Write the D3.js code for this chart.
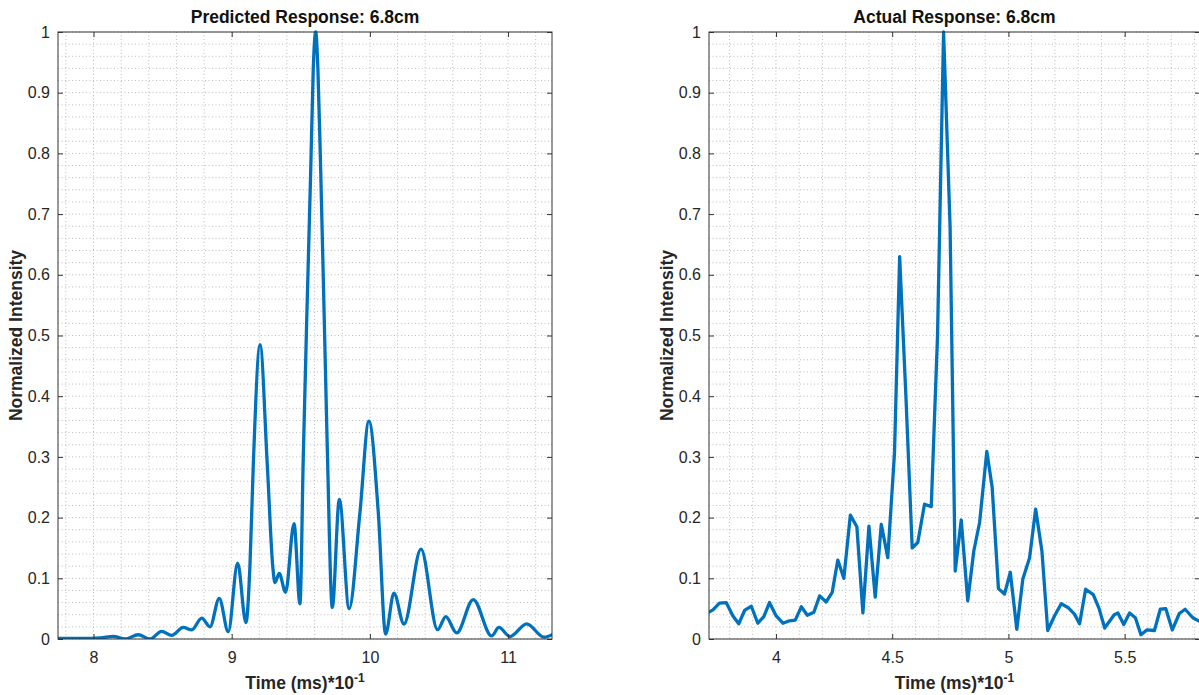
<!DOCTYPE html>
<html>
<head>
<meta charset="utf-8">
<script src="https://d3js.org/d3.v7.min.js"></script>
<style>
  body { margin: 0; background: #fff; }
  svg { font-family: "Liberation Sans", Arial, Helvetica, sans-serif; }
</style>
</head>
<body>
<svg id="chart" width="1199" height="695"></svg>
<script>
// predicted response (smooth curve)
const predTime = [7.743, 7.9, 8.05, 8.143, 8.228, 8.324, 8.409, 8.493, 8.566, 8.650, 8.711, 8.783, 8.843,
  8.910, 8.975, 9.043, 9.103, 9.132, 9.156, 9.205, 9.258, 9.297, 9.313, 9.344, 9.390, 9.451, 9.494,
  9.518, 9.543, 9.572, 9.590, 9.608, 9.624, 9.644, 9.670, 9.692, 9.728, 9.779, 9.850, 9.928, 9.993,
  10.061, 10.114, 10.174, 10.247, 10.370, 10.490, 10.549, 10.628, 10.748, 10.881, 10.934, 11.014,
  11.135, 11.260, 11.327];
const predIntensity = [0.001, 0.001, 0.002, 0.0044, 0.0, 0.007, 0.0, 0.0126, 0.006, 0.019, 0.015, 0.0345, 0.02,
  0.067, 0.012, 0.125, 0.027, 0.12, 0.285, 0.485, 0.285, 0.12, 0.093, 0.108, 0.077, 0.19, 0.058,
  0.3, 0.526, 0.773, 0.9375, 1.0, 0.9375, 0.773, 0.526, 0.3125, 0.052, 0.23, 0.05, 0.208, 0.359,
  0.208, 0.008, 0.0757, 0.0247, 0.148, 0.0153, 0.037, 0.01, 0.065, 0.005, 0.019, 0.004,
  0.025, 0.003, 0.008];

// actual response (sampled)
const actTime = [3.710, 3.729, 3.757, 3.786, 3.815, 3.840, 3.865, 3.894, 3.922, 3.948, 3.972, 4.001, 4.030,
  4.058, 4.083, 4.109, 4.135, 4.163, 4.188, 4.216, 4.242, 4.266, 4.292, 4.320, 4.348, 4.374, 4.400,
  4.427, 4.453, 4.481, 4.510, 4.532, 4.559, 4.586, 4.610, 4.639, 4.668, 4.695, 4.721, 4.749, 4.771,
  4.797, 4.825, 4.851, 4.876, 4.907, 4.930, 4.957, 4.983, 5.008, 5.036, 5.062, 5.091, 5.117, 5.144,
  5.169, 5.198, 5.227, 5.256, 5.284, 5.306, 5.332, 5.365, 5.390, 5.414, 5.455, 5.471, 5.496, 5.521,
  5.546, 5.570, 5.595, 5.628, 5.653, 5.677, 5.705, 5.735, 5.760, 5.793, 5.822];
const actIntensity = [0.044, 0.048, 0.059, 0.060, 0.038, 0.025, 0.047, 0.054, 0.026, 0.037, 0.060, 0.038, 0.026,
  0.030, 0.031, 0.053, 0.039, 0.044, 0.071, 0.061, 0.077, 0.130, 0.100, 0.204, 0.185, 0.043, 0.186,
  0.069, 0.189, 0.134, 0.307, 0.630, 0.40, 0.150, 0.159, 0.222, 0.218, 0.50, 1.0, 0.68, 0.112,
  0.196, 0.063, 0.145, 0.192, 0.309, 0.25, 0.083, 0.074, 0.110, 0.016, 0.099, 0.134, 0.214, 0.145,
  0.014, 0.038, 0.058, 0.052, 0.041, 0.025, 0.082, 0.073, 0.05, 0.018, 0.040, 0.043, 0.024, 0.043,
  0.035, 0.007, 0.015, 0.014, 0.049, 0.050, 0.015, 0.042, 0.049, 0.035, 0.029];

const yTicks = [0, 0.1, 0.2, 0.3, 0.4, 0.5, 0.6, 0.7, 0.8, 0.9, 1];
const predXTicks = [8, 9, 10, 11];
const actXTicks = [4, 4.5, 5, 5.5];

const svg = d3.select("#chart");
const plotTop = 32, plotBottom = 639;
const fmt = d3.format("~g");

function drawPanel(p) {
  const x = d3.scaleLinear().domain(p.domain).range([p.x0, p.x1]);
  const y = d3.scaleLinear().domain([0, 1]).range([plotBottom, plotTop]);
  const g = svg.append("g");

  // minor grid
  const xMinor = d3.range(Math.ceil(p.domain[0] / p.minor), Math.floor(p.domain[1] / p.minor) + 1)
    .map(i => +(i * p.minor).toFixed(3));
  const yMinor = d3.range(0, 51).map(i => i * 0.02);
  g.selectAll(".vgrid").data(xMinor).enter().append("line")
    .attr("x1", d => x(d)).attr("x2", d => x(d))
    .attr("y1", plotTop).attr("y2", plotBottom)
    .style("stroke", "#bdbdbd").style("stroke-width", 1)
    .style("stroke-dasharray", "1,2.5");
  g.selectAll(".hgrid").data(yMinor).enter().append("line")
    .attr("x1", p.x0).attr("x2", p.x1)
    .attr("y1", d => y(d)).attr("y2", d => y(d))
    .style("stroke", "#bdbdbd").style("stroke-width", 1)
    .style("stroke-dasharray", "1,2.5");

  // curve
  g.append("clipPath").attr("id", p.id + "clip")
    .append("rect").attr("x", p.x0).attr("y", plotTop - 2)
    .attr("width", p.x1 - p.x0).attr("height", plotBottom - plotTop + 2);
  const pts = p.times.map((t, i) => [t, p.values[i]]);
  g.append("path")
    .datum(pts)
    .attr("clip-path", "url(#" + p.id + "clip)")
    .attr("d", d3.line().x(d => x(d[0])).y(d => y(d[1])).curve(p.curve))
    .style("fill", "none")
    .style("stroke", "#0072BD")
    .style("stroke-width", 3.3)
    .style("stroke-linejoin", "round");

  // axes, ticks inward
  g.append("g").attr("transform", "translate(0," + plotBottom + ")")
    .call(d3.axisBottom(x).tickValues(p.ticks).tickFormat(fmt).tickSize(-5).tickPadding(13));
  g.append("g").attr("transform", "translate(0," + plotTop + ")")
    .call(d3.axisTop(x).tickValues(p.ticks).tickFormat("").tickSize(-5));
  g.append("g").attr("transform", "translate(" + p.x0 + ",0)")
    .call(d3.axisLeft(y).tickValues(yTicks).tickFormat(fmt).tickSize(-5).tickPadding(8));
  g.append("g").attr("transform", "translate(" + p.x1 + ",0)")
    .call(d3.axisRight(y).tickValues(yTicks).tickFormat("").tickSize(-5));
  g.selectAll(".domain").remove();
  g.selectAll(".tick line").style("stroke", "#333");
  g.selectAll(".tick text").style("font-size", "16px").style("fill", "#262626")
    .style("font-family", "'Liberation Sans', Arial, sans-serif");

  g.append("rect")
    .attr("x", p.x0).attr("y", plotTop)
    .attr("width", p.x1 - p.x0).attr("height", plotBottom - plotTop)
    .style("fill", "none").style("stroke", "#333").style("stroke-width", 1);

  const cx = (p.x0 + p.x1) / 2;
  g.append("text")
    .attr("x", cx).attr("y", 23)
    .attr("text-anchor", "middle")
    .style("font-size", "17.5px").style("font-weight", "bold").style("fill", "#111")
    .text(p.title);

  const xl = g.append("text")
    .attr("x", cx).attr("y", 689)
    .attr("text-anchor", "middle")
    .style("font-size", "17.5px").style("font-weight", "bold").style("fill", "#262626");
  xl.append("tspan").text("Time (ms)*10");
  xl.append("tspan").attr("dy", -7).style("font-size", "12px").text("-1");

  g.append("text")
    .attr("transform", "translate(" + (p.x0 - 36) + "," + ((plotTop + plotBottom) / 2) + ") rotate(-90)")
    .attr("text-anchor", "middle")
    .style("font-size", "17.5px").style("font-weight", "bold").style("fill", "#262626")
    .text("Normalized Intensity");
}

drawPanel({
  id: "pred", x0: 58, x1: 552, domain: [7.743, 11.318], ticks: predXTicks, minor: 0.2,
  title: "Predicted Response: 6.8cm", times: predTime, values: predIntensity,
  curve: d3.curveMonotoneX
});

drawPanel({
  id: "act", x0: 709, x1: 1200, domain: [3.712, 5.824], ticks: actXTicks, minor: 0.1,
  title: "Actual Response: 6.8cm", times: actTime, values: actIntensity,
  curve: d3.curveLinear
});
</script>
</body>
</html>
